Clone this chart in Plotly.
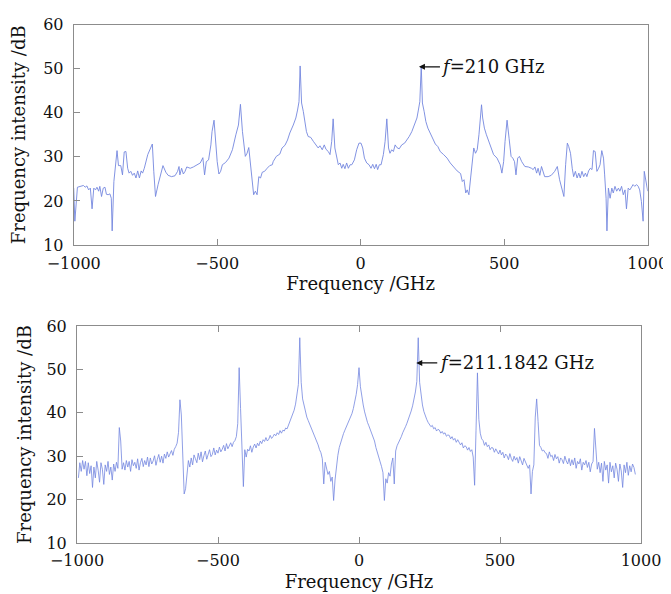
import numpy as np
import plotly.graph_objects as go

# ---------------- Top panel data ----------------
top_freq = [
    -1000, -996, -987, -978, -966, -960, -954, -948, -942, -936, -930, -924, -919, -913, -909, -903, -897, -891,
    -886, -880, -874, -869, -866, -860, -854, -849, -844, -836, -830, -824, -818, -812, -807, -801, -795, -789,
    -783, -777, -771, -765, -760, -754, -742, -732, -726, -721, -715, -706, -697, -689, -679, -671, -659, -647,
    -638, -633, -630, -624, -618, -612, -606, -594, -583, -571, -559, -550, -544, -538, -530, -522, -518, -511,
    -506, -500, -494, -488, -482, -471, -459, -447, -435, -426, -419, -412, -402, -396, -390, -385, -379, -373,
    -367, -361, -355, -349, -343, -335, -326, -317, -308,
    -305, -294, -282, -274, -264, -255, -247, -235, -226, -220, -215, -211, -206, -200, -195, -189, -183, -174,
    -165, -157, -148, -142, -134, -127, -121, -113, -107, -101, -96, -90, -84, -78, -72, -66, -61, -55, -49, -43,
    -37, -31, -22, -14, -6, 1, 7, 13, 21, 29, 36, 42, 48, 54, 59, 65, 71, 79, 85, 91, 97, 102, 108, 114, 120, 126,
    134, 143, 153, 161, 169, 178, 188, 196, 201, 206, 211, 215, 221, 227, 234, 242, 250, 260, 269, 277, 289, 301,
    312, 324, 336,
    348, 354, 360, 366, 371, 377, 383, 388, 394, 400, 406, 412, 417, 421, 425, 431, 438, 446, 455, 463, 475, 480,
    486, 492, 498, 503, 510, 517, 524, 530, 536, 541, 547, 553, 561, 572, 584, 595, 601, 607, 613, 618, 624, 630,
    636, 641, 653, 664, 676, 685, 693, 701, 708, 714, 720, 725, 731, 737, 742, 748, 754, 760, 765, 771, 777, 783,
    788, 794, 800, 806, 811, 817, 823, 829, 834, 840, 846, 850, 855, 858, 863, 869, 875, 880, 886, 892, 898, 903,
    909, 915, 921, 926, 932, 938, 944, 949, 955, 961, 967, 972, 978, 984, 988, 994, 1000,
]
top_db = [
    22.9, 15.4, 23.1, 23.3, 23.5, 23.1, 23.4, 22.5, 22.9, 18.2, 22.9, 22.5, 23.1, 22.2, 23.3, 21.0, 22.9, 23.1,
    21.5, 21.4, 21.6, 20.6, 13.2, 24.4, 28.9, 31.4, 28.0, 28.0, 25.9, 31.1, 31.2, 27.4, 26.3, 26.7, 25.8, 26.3,
    25.2, 26.8, 25.2, 26.8, 26.3, 27.4, 30.5, 32.3, 32.9, 26.7, 21.0, 23.7, 25.9, 28.0, 26.5, 25.8, 25.5, 25.7,
    26.7, 27.8, 25.9, 27.4, 26.1, 26.7, 27.7, 27.4, 27.7, 28.2, 28.6, 29.8, 25.9, 28.9, 29.3, 32.7, 35.7, 38.3,
    33.5, 28.9, 26.1, 26.7, 28.2, 28.7, 29.7, 31.6, 35.0, 37.2, 41.9, 35.7, 30.1, 30.8, 32.1, 28.9, 24.4, 21.4,
    22.2, 21.4, 25.5, 25.2, 26.5, 26.7, 27.4, 28.0, 28.2,
    28.9, 30.1, 30.6, 32.0, 32.6, 33.8, 35.4, 37.2, 38.8, 40.6, 42.5, 50.6, 42.2, 40.3, 38.0, 35.7, 34.6, 34.4,
    33.5, 32.9, 32.0, 32.5, 31.6, 32.7, 31.7, 31.2, 30.5, 33.5, 38.6, 32.0, 29.7, 28.2, 28.6, 27.4, 28.3, 27.3, 28.6, 27.4,
    28.2, 28.2, 29.3, 31.6, 33.1, 33.1, 32.0, 29.7, 28.6, 28.2, 27.4, 28.3, 27.3, 28.3, 27.1, 28.2, 28.2, 30.5, 33.5, 38.6,
    32.0, 30.8, 31.6, 31.2, 32.7, 32.1,
    31.8, 32.7, 33.1, 33.8, 34.6, 35.7, 37.2, 38.8, 40.6, 42.5, 50.6, 42.2, 40.3, 38.0, 36.5, 35.4, 34.2, 32.9, 32.3, 31.2, 30.5, 29.7,
    28.6, 27.6, 26.8,
    26.2, 24.4, 24.8, 21.8, 22.5, 21.4, 25.2, 28.2, 32.0, 30.8, 31.6, 35.0, 38.0, 41.8, 38.8, 36.5, 35.0, 33.5, 31.6, 30.5, 29.7, 28.9,
    28.2, 26.3, 28.9, 33.5, 38.3, 34.2, 30.1, 29.7, 28.9, 25.9, 29.7, 30.1, 28.9, 27.8, 27.7, 27.4, 27.1, 27.7, 26.3, 27.4, 25.8, 27.8,
    26.7, 25.5, 25.5, 25.8, 26.7, 27.8, 24.8, 22.9, 21.0, 28.2, 33.1, 32.3, 30.8, 27.4, 25.5, 26.7, 25.2, 26.3, 25.2, 26.7, 25.5, 26.3,
    25.5, 26.8, 27.4, 27.1, 31.4, 31.2, 26.7, 27.4, 28.2, 31.4, 29.7, 25.9, 20.6, 13.2, 22.9, 20.6, 22.9, 21.8, 23.3, 22.2, 22.9, 22.2,
    23.3, 21.4, 22.5, 18.2, 22.9, 22.5, 23.3, 23.7, 23.3, 23.7, 23.3, 22.5, 19.9, 15.4, 26.7, 24.4, 22.2,
]

# ---------------- Bottom panel data (5 GHz grid) ----------------
bottom_f_start = -995
bottom_f_step = 5
bottom_db = [
    25.0, 28.5, 26.5, 29.0, 27.0, 28.8, 25.5, 28.5, 26.0, 27.8,
    22.8, 27.5, 25.0, 28.8, 26.8, 24.0, 28.5, 27.0, 23.5, 28.0,
    26.5, 28.8, 25.8, 27.5, 24.5, 28.2, 26.5, 28.6, 27.2, 36.6,
    33.5, 27.0, 28.5, 26.8, 29.0, 27.5, 28.8, 26.5, 29.2, 27.8,
    28.6, 27.2, 29.4, 26.8, 28.5, 29.5, 27.6, 29.0, 28.0, 29.8,
    27.6, 29.6, 28.2, 28.9, 30.1, 27.9, 29.3, 30.4, 28.6, 30.0,
    28.4, 30.5, 29.5, 31.0, 29.8, 30.6, 31.3, 30.2, 31.6, 32.2,
    33.0, 35.5, 43.0, 39.5, 32.0, 21.3, 22.5, 26.8, 29.0, 27.5,
    29.6, 28.0, 30.3, 29.4, 28.5, 30.7, 29.2, 31.0, 28.7, 30.1,
    31.2, 29.3, 30.6, 31.5, 29.9, 30.4, 31.9, 30.3, 31.4, 30.7,
    32.1, 31.0, 31.6, 32.5, 31.2, 32.9, 31.7, 32.4, 33.1, 32.2,
    33.2, 33.6, 34.5, 37.5, 50.4, 41.0, 33.0, 23.0, 31.5, 29.8,
    31.6, 31.2, 32.4, 30.9, 32.1, 32.8, 31.9, 33.0, 32.4, 33.5,
    32.9, 33.8, 33.4, 34.3, 33.5, 33.9, 34.8, 34.1, 34.5, 35.1,
    34.7, 35.4, 35.0, 35.9, 35.3, 36.0, 35.8, 36.5, 36.3, 37.1,
    38.0, 38.6, 39.5, 40.6, 42.0, 43.8, 46.5, 57.3, 47.0, 43.2,
    41.5, 40.2, 39.0, 38.2, 37.4, 36.8, 36.0, 35.2, 34.5, 33.8,
    32.6, 31.5, 30.8, 29.4, 23.6, 28.6, 27.5, 25.8, 26.5, 24.2,
    25.2, 19.8, 24.5, 27.8, 30.2, 32.0, 33.2, 34.4, 35.2, 36.0,
    36.8, 37.4, 38.0, 38.8, 39.8, 41.0, 42.5, 44.2, 46.5, 50.4,
    46.0, 43.6, 41.8, 40.2, 38.8, 37.8, 37.0, 36.2, 35.4, 34.6,
    33.5, 32.0, 31.0, 29.8, 28.8, 27.6, 26.2, 19.8, 24.8, 23.8,
    26.2, 25.4, 28.2, 29.6, 23.6, 31.2, 32.4, 33.0, 33.8, 34.5,
    35.4, 36.0, 36.8, 37.6, 38.4, 39.3, 40.4, 41.6, 43.0, 44.8,
    47.2, 57.3, 47.0, 43.6, 41.8, 40.3, 39.2, 38.5, 37.8, 37.2,
    36.8, 37.1, 36.3, 36.6, 35.8, 36.2, 36.0, 35.3, 35.7, 35.1,
    35.4, 34.6, 34.9, 34.8, 34.0, 34.5, 33.7, 34.1, 33.2, 33.8,
    33.0, 32.6, 33.1, 31.9, 32.4, 32.2, 31.4, 32.0, 31.1, 31.5,
    29.8, 23.3, 36.0, 49.2, 38.5, 35.3, 34.0, 33.6, 32.5, 33.2,
    32.2, 32.6, 31.5, 32.0, 31.9, 30.9, 31.7, 31.2, 30.5, 31.4,
    30.3, 30.9, 29.6, 30.5, 30.1, 29.2, 30.6, 29.5, 28.8, 30.0,
    29.1, 29.7, 28.4, 29.9, 28.9, 28.0, 29.5, 28.6, 28.1, 27.2,
    28.0, 21.3, 26.5, 28.0, 39.0, 43.2, 38.0, 32.5, 32.0, 31.2,
    31.4, 30.8, 30.6, 29.5, 31.0, 29.9, 30.2, 29.0, 30.4, 29.4,
    29.9, 28.4, 29.6, 29.2, 28.3, 30.0, 28.9, 28.2, 29.5, 27.8,
    29.2, 28.0, 29.6, 27.2, 28.8, 28.2, 29.4, 26.8, 28.6, 28.0,
    29.0, 27.4, 28.6, 26.4, 28.2, 28.8, 36.4, 30.0, 27.0, 28.6,
    26.2, 28.4, 24.2, 28.8, 26.8, 28.0, 23.8, 28.6, 26.4, 27.8,
    25.0, 28.4, 27.0, 24.2, 28.2, 26.6, 22.8, 28.0, 26.2, 28.6,
    25.6, 27.8, 26.4, 28.2, 27.4, 25.8,
]
bottom_freq = bottom_f_start + bottom_f_step * np.arange(len(bottom_db))

x_ticks = [-1000, -500, 0, 500, 1000]
x_tick_text = ["\u22121000", "\u2212500", "0", "500", "1000"]
y_ticks = [10, 20, 30, 40, 50, 60]

LINE = "#7487df"
AX = "#8c8c8c"
TXT = "#111111"
FONT = "DejaVu Serif"

fig = go.Figure()
fig.add_trace(go.Scatter(x=top_freq, y=top_db, mode="lines", line=dict(color=LINE, width=0.9),
                         xaxis="x", yaxis="y", showlegend=False, hoverinfo="skip"))
fig.add_trace(go.Scatter(x=bottom_freq, y=bottom_db, mode="lines", line=dict(color=LINE, width=0.8),
                         xaxis="x2", yaxis="y2", showlegend=False, hoverinfo="skip"))

# the page body has an 8px margin, so the figure is drawn 8px in from the window's corner
OFF = 8
W, H = 671 - OFF, 594 - OFF
def xd(a, b):
    return [(a - OFF) / W, (b - OFF) / W]
def yd(top, bot):
    return [1 - (bot - OFF) / H, 1 - (top - OFF) / H]

axis_common = dict(showgrid=False, zeroline=False, showline=True, linecolor=AX, linewidth=1,
                   ticks="inside", ticklen=6, tickcolor=AX, tickwidth=1,
                   tickfont=dict(family=FONT, size=16, color=TXT), automargin=False)
title_font = dict(family=FONT, size=18, color=TXT)

fig.update_layout(
    width=W, height=H,
    margin=dict(l=0, r=0, t=0, b=0),
    paper_bgcolor="white", plot_bgcolor="white",
    xaxis=dict(domain=xd(73.7, 647.7), range=[-1000, 1000], tickvals=x_ticks, ticktext=x_tick_text,
               mirror=True, anchor="y", ticklabelstandoff=4,
               title=dict(text="Frequency /GHz", font=title_font, standoff=5),
               **axis_common),
    yaxis=dict(domain=yd(24.5, 245), range=[10, 60], tickvals=y_ticks, mirror=True, anchor="x",
               ticklabelstandoff=6,
               title=dict(text="Frequency intensity /dB", font=title_font, standoff=12),
               **axis_common),
    xaxis2=dict(domain=xd(77, 641), range=[-1000, 1000], tickvals=x_ticks, ticktext=x_tick_text,
                mirror="ticks", anchor="y2", ticklabelstandoff=3,
                title=dict(text="Frequency /GHz", font=title_font, standoff=6),
                **axis_common),
    yaxis2=dict(domain=yd(326, 543), range=[10, 60], tickvals=y_ticks, mirror=True, anchor="x2",
                ticklabelstandoff=6,
                title=dict(text="Frequency intensity /dB", font=title_font, standoff=10),
                **axis_common),
    annotations=[
        dict(x=203, y=50.4, xref="x", yref="y", text="<i>f</i>=210 GHz", showarrow=True,
             ax=74, ay=0, axref="pixel", ayref="pixel", arrowhead=2, arrowsize=1, arrowwidth=1.2,
             arrowcolor=TXT, font=dict(family=FONT, size=18, color=TXT), standoff=0),
        dict(x=203, y=51.5, xref="x2", yref="y2", text="<i>f</i>=211.1842 GHz", showarrow=True,
             ax=100, ay=0, axref="pixel", ayref="pixel", arrowhead=2, arrowsize=1, arrowwidth=1.2,
             arrowcolor=TXT, font=dict(family=FONT, size=18, color=TXT), standoff=0),
    ],
)

fig.write_html("out.html")
